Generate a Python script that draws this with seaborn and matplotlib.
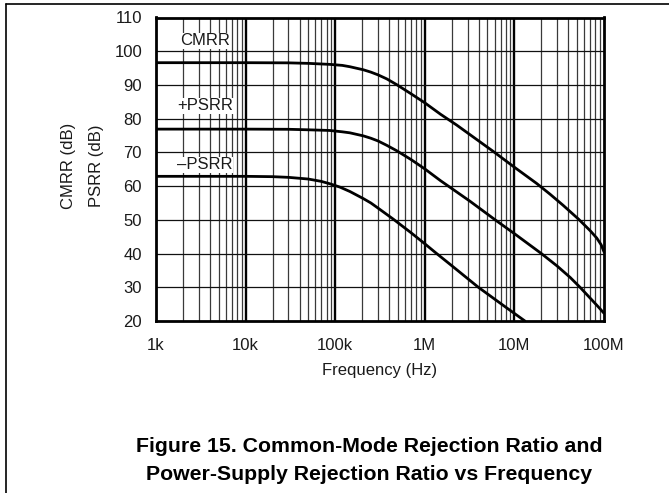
import matplotlib
matplotlib.use("Agg")
import matplotlib.pyplot as plt
from matplotlib.lines import Line2D
from matplotlib.ticker import FixedLocator, NullFormatter
import pandas as pd
import seaborn as sns

# ---- data ----
cmrr_freq = [1e3, 1e4, 3e4, 5e4, 8.7e4, 1.2e5, 1.46e5, 1.7e5, 2.06e5, 2.5e5,
             3e5, 3.76e5, 4.85e5, 7e5, 1e6, 1.5e6, 2.27e6, 3.5e6, 5.8e6,
             1e7, 1.77e7, 2.5e7, 3.5e7, 5.2e7, 7e7, 8.3e7, 9.3e7, 1e8]
cmrr_db = [96.6, 96.6, 96.55, 96.4, 96.1, 95.8, 95.4, 95.0, 94.5, 93.8,
           93.0, 91.8, 90.1, 87.4, 84.7, 81.3, 78.1, 74.5, 70.3,
           65.6, 60.8, 57.6, 54.3, 50.2, 46.8, 44.6, 42.6, 40.5]

pos_freq = [1e3, 1e4, 3e4, 5e4, 8.7e4, 1.2e5, 1.46e5, 1.7e5, 2.06e5, 2.5e5,
            3e5, 3.76e5, 4.85e5, 7e5, 1e6, 1.5e6, 1.9e6, 3.2e6, 6.1e6, 1e7,
            2e7, 3e7, 4.2e7, 5.4e7, 7e7, 8.5e7, 1e8]
pos_db = [76.9, 76.9, 76.85, 76.7, 76.5, 76.1, 75.8, 75.4, 74.9, 74.2,
          73.4, 72.1, 70.5, 67.9, 65.1, 61.6, 59.7, 55.5, 50.0, 45.9,
          40.0, 36.3, 32.9, 30.0, 26.8, 24.4, 22.3]

neg_freq = [1e3, 1e4, 2e4, 3e4, 5e4, 7e4, 8.7e4, 1.13e5, 1.46e5, 2.06e5,
            2.5e5, 3e5, 4.45e5, 7e5, 1e6, 1.3e6, 2e6, 3.96e6, 8e6, 1.31e7]
neg_db = [62.9, 62.9, 62.8, 62.6, 62.1, 61.4, 60.7, 59.7, 58.4, 56.3,
          55.0, 53.5, 50.2, 46.2, 42.9, 40.4, 36.4, 30.0, 24.1, 20.0]

series_names = ["CMRR", "+PSRR", "–PSRR"]
label_db = [103.1, 83.8, 66.3]
label_freq = 3.52e3

x_ticks = [1e3, 1e4, 1e5, 1e6, 1e7, 1e8]
x_tick_labels = ["1k", "10k", "100k", "1M", "10M", "100M"]
y_ticks = [20, 30, 40, 50, 60, 70, 80, 90, 100, 110]

caption1 = "Figure 15. Common-Mode Rejection Ratio and"
caption2 = "Power-Supply Rejection Ratio vs Frequency"

# ---- build table ----
df = pd.concat([
    pd.DataFrame({"f": cmrr_freq, "db": cmrr_db, "s": series_names[0]}),
    pd.DataFrame({"f": pos_freq, "db": pos_db, "s": series_names[1]}),
    pd.DataFrame({"f": neg_freq, "db": neg_db, "s": series_names[2]}),
], ignore_index=True)

sns.set_theme(style="white")
plt.rcParams["font.family"] = ["Liberation Sans", "DejaVu Sans"]

FS = 12
TXT = "#1a1a1a"
W, H = 669, 493
fig = plt.figure(figsize=(W / 100, H / 100), dpi=100)
ax = fig.add_axes([156 / W, 1 - 321 / H, (604 - 156) / W, (321 - 17.5) / H])

ax.set_xscale("log")
ax.set_xlim(1e3, 1e8)
ax.set_ylim(20, 110)

# grid
minor = [m * 10 ** e for e in range(3, 8) for m in range(2, 10)]
for v in minor:
    ax.axvline(v, color="#3a3a3a", lw=0.9, zorder=1)
for v in x_ticks[1:-1]:
    ax.axvline(v, color="black", lw=1.7, zorder=1)
for v in y_ticks[1:-1]:
    ax.axhline(v, color="#111111", lw=0.9, zorder=1)

sns.lineplot(data=df, x="f", y="db", hue="s", palette=["black"] * 3,
             lw=2.0, legend=False, ax=ax, zorder=3, sort=False,
             estimator=None, solid_joinstyle="round")

for name, y in zip(series_names, label_db):
    ax.text(label_freq, y, name, ha="center", va="center", fontsize=FS,
            color=TXT, zorder=4,
            bbox=dict(facecolor="white", edgecolor="none", pad=0.5))

ax.xaxis.set_major_locator(FixedLocator(x_ticks))
ax.xaxis.set_minor_formatter(NullFormatter())
ax.set_xticks(x_ticks)
ax.set_xticklabels(x_tick_labels)
ax.set_yticks(y_ticks)
ax.tick_params(axis="both", which="both", length=0, labelsize=FS,
               colors=TXT)
ax.tick_params(axis="x", pad=12)
ax.tick_params(axis="y", pad=10)
ax.set_xlabel("")
ax.set_ylabel("")
for sp in ax.spines.values():
    sp.set_visible(True)
    sp.set_color("black")
    sp.set_linewidth(2.0)
    sp.set_zorder(5)

fig.text(380 / W, 1 - 371 / H, "Frequency (Hz)", ha="center", va="center",
         fontsize=FS, color=TXT)
fig.text(68 / W, 1 - 166 / H, "CMRR (dB)", rotation=90, ha="center",
         va="center", fontsize=FS, color=TXT)
fig.text(96 / W, 1 - 166 / H, "PSRR (dB)", rotation=90, ha="center",
         va="center", fontsize=FS, color=TXT)

fig.text(369 / W, 1 - 447 / H, caption1, ha="center", va="center",
         fontsize=15.3, fontweight="bold", color="black")
fig.text(369 / W, 1 - 474 / H, caption2, ha="center", va="center",
         fontsize=15.3, fontweight="bold", color="black")

# page frame lines (top and left)
fig.add_artist(Line2D([6 / W, 1.0], [1 - 4 / H, 1 - 4 / H],
                      transform=fig.transFigure, color="black", lw=1.2))
fig.add_artist(Line2D([6 / W, 6 / W], [0.0, 1 - 4 / H],
                      transform=fig.transFigure, color="black", lw=1.2))

fig.savefig("out.png", dpi=100)
